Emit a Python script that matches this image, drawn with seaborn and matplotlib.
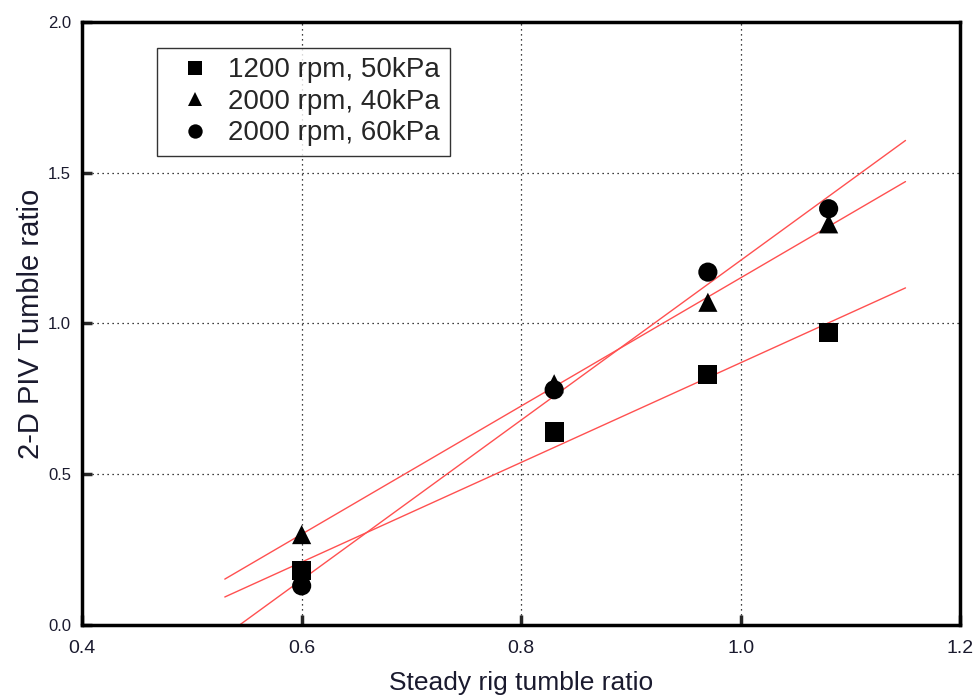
import numpy as np
import pandas as pd
import matplotlib
matplotlib.use("Agg")
import matplotlib.pyplot as plt
import seaborn as sns

series_names = ["1200 rpm, 50kPa", "2000 rpm, 40kPa", "2000 rpm, 60kPa"]
steady_ratio = [0.60, 0.83, 0.97, 1.08]
piv_1200_50 = [0.18, 0.64, 0.83, 0.97]
piv_2000_40 = [0.30, 0.80, 1.07, 1.33]
piv_2000_60 = [0.13, 0.78, 1.17, 1.38]
fit_range = [0.53, 1.15]
x_ticks = [0.4, 0.6, 0.8, 1.0, 1.2]
y_ticks = [0.0, 0.5, 1.0, 1.5, 2.0]

sns.set_theme(style="white")
plt.rcParams['font.family'] = ['Liberation Sans', 'DejaVu Sans']

rows = []
for name, vals in zip(series_names, [piv_1200_50, piv_2000_40, piv_2000_60]):
    for x, y in zip(steady_ratio, vals):
        rows.append({"steady": x, "piv": y, "series": name})
df = pd.DataFrame(rows)

fig = plt.figure(figsize=(9.77, 7.0), dpi=100)
ax = fig.add_axes([0.084, 0.107, 0.899, 0.862])

# fit lines
xs = np.linspace(fit_range[0], fit_range[1], 50)
for name in series_names:
    sub = df[df.series == name]
    k, b = np.polyfit(sub.steady, sub.piv, 1)
    ax.plot(xs, k * xs + b, color="#ff5050", lw=1.0, zorder=2)

markers = {series_names[0]: "s", series_names[1]: "^", series_names[2]: "o"}
sns.scatterplot(data=df, x="steady", y="piv", style="series", markers=markers,
                color="black", s=190, edgecolor="none", ax=ax, zorder=3,
                style_order=series_names)

ax.set_xlim(0.4, 1.2)
ax.set_ylim(0.0, 2.0)
ax.set_xticks(x_ticks)
ax.set_yticks(y_ticks)
ax.set_xticklabels([f"{v:.1f}" for v in x_ticks])
ax.set_yticklabels([f"{v:.1f}" for v in y_ticks])
ax.tick_params(direction="in", length=7, width=2.5, pad=8, bottom=True, left=True,
               labelcolor="#1a1a2e")
ax.tick_params(axis="x", pad=11, labelsize=14)
ax.tick_params(axis="y", labelsize=12)
for sp in ax.spines.values():
    sp.set_linewidth(2.5)
    sp.set_color("black")
ax.grid(True, linestyle=(0, (1, 3)), color="black", lw=0.9)
ax.set_xlabel("Steady rig tumble ratio", fontsize=19, color="#1a1a2e", labelpad=10)
ax.set_ylabel("2-D PIV Tumble ratio", fontsize=21, color="#1a1a2e", labelpad=2)

leg = ax.legend(loc="upper left", bbox_to_anchor=(0.07, 0.98), fontsize=20,
                frameon=True, fancybox=False, edgecolor="black", markerscale=0.75,
                handletextpad=0.2, borderpad=0.35, labelspacing=0.2,
                handlelength=2.0)
leg.get_frame().set_linewidth(1.0)

fig.savefig("out.png", dpi=100)
